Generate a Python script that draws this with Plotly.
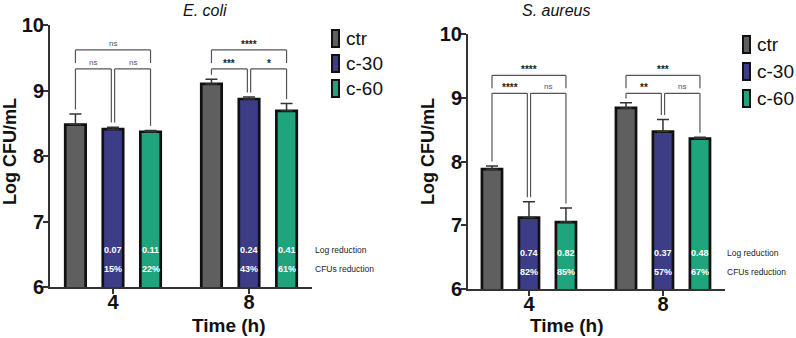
import plotly.graph_objects as go

W, H = 796, 338

# ---------------- data ----------------
groups = ["4", "8"]
series = ["ctr", "c-30", "c-60"]
colors = ["#5f5f5f", "#3c3d86", "#1fa47d"]

ecoli_ctr = [8.48, 9.10]
ecoli_ctr_err = [0.16, 0.07]
ecoli_c30 = [8.41, 8.87]
ecoli_c30_err = [0.03, 0.03]
ecoli_c60 = [8.37, 8.69]
ecoli_c60_err = [0.02, 0.11]

saureus_ctr = [7.88, 8.84]
saureus_ctr_err = [0.05, 0.08]
saureus_c30 = [7.12, 8.47]
saureus_c30_err = [0.25, 0.19]
saureus_c60 = [7.05, 8.36]
saureus_c60_err = [0.22, 0.02]

ecoli_logred = {"c-30": ["0.07", "0.24"], "c-60": ["0.11", "0.41"]}
ecoli_cfured = {"c-30": ["15%", "43%"], "c-60": ["22%", "61%"]}
saureus_logred = {"c-30": ["0.74", "0.37"], "c-60": ["0.82", "0.48"]}
saureus_cfured = {"c-30": ["82%", "57%"], "c-60": ["85%", "67%"]}

# (group index, series i, series j, label)
ecoli_sig = [(0, 0, 2, "ns"), (0, 0, 1, "ns"), (0, 1, 2, "ns"),
             (1, 0, 2, "****"), (1, 0, 1, "***"), (1, 1, 2, "*")]
saureus_sig = [(0, 0, 2, "****"), (0, 0, 1, "****"), (0, 1, 2, "ns"),
               (1, 0, 2, "***"), (1, 0, 1, "**"), (1, 1, 2, "ns")]

# ---------------- layout helpers ----------------
FONT = "Liberation Sans, Arial, Helvetica, sans-serif"
OFFS = [-0.276, 0.0, 0.276]
BARW = 0.15


def px(x):
    return x / W


def py(y):
    return (H - y) / H


panels = [
    dict(name="E. coli", xa="x", ya="y", means=[ecoli_ctr, ecoli_c30, ecoli_c60],
         errs=[ecoli_ctr_err, ecoli_c30_err, ecoli_c60_err],
         logred=ecoli_logred, cfured=ecoli_cfured, sig=ecoli_sig,
         xdom=[px(50), px(312)], ydom=[py(287), py(25)], xr=[-0.463, 1.463],
         L1=9.62, L2=9.33, title_xy=(181, 10), ytitle_xy=(10, 152), xtitle_xy=(190, 325),
         side_x=313, leg_x=332, leg_y=[38.5, 63.5, 88.5]),
    dict(name="S. aureus", xa="x2", ya="y2", means=[saureus_ctr, saureus_c30, saureus_c60],
         errs=[saureus_ctr_err, saureus_c30_err, saureus_c60_err],
         logred=saureus_logred, cfured=saureus_cfured, sig=saureus_sig,
         xdom=[px(468), px(725)], ydom=[py(289), py(34)], xr=[-0.455, 1.463],
         L1=9.35, L2=9.07, title_xy=(592, 10), ytitle_xy=(428, 152), xtitle_xy=(606, 325),
         side_x=725, leg_x=743, leg_y=[44.5, 71.5, 98.5]),
]

fig = go.Figure()
shapes = []
annos = []

for p in panels:
    for k, s in enumerate(series):
        fig.add_trace(go.Bar(
            x=[g + OFFS[k] for g in range(len(groups))],
            y=p["means"][k],
            width=BARW,
            name=s,
            showlegend=False,
            marker=dict(color=colors[k], line=dict(color="#111111", width=2.7)),
            error_y=dict(type="data", symmetric=False, array=p["errs"][k],
                         arrayminus=[0] * len(groups), color="#333333",
                         thickness=1.5, width=6),
            xaxis=p["xa"], yaxis=p["ya"],
        ))

    # in-bar reduction labels
    for k, s in enumerate(series):
        if s in p["logred"]:
            for g in range(len(groups)):
                for yv, txt in ((6.565, p["logred"][s][g]), (6.27, p["cfured"][s][g])):
                    annos.append(dict(x=g + OFFS[k], y=yv, xref=p["xa"], yref=p["ya"],
                                      text=txt, showarrow=False,
                                      font=dict(family=FONT, size=9, color="white", weight="bold")))
    annos.append(dict(x=px(p["side_x"]), y=6.565, xref="paper", yref=p["ya"], text="Log reduction",
                      showarrow=False, xanchor="left", font=dict(family=FONT, size=8.5, color="#222")))
    annos.append(dict(x=px(p["side_x"]), y=6.27, xref="paper", yref=p["ya"], text="CFUs reduction",
                      showarrow=False, xanchor="left", font=dict(family=FONT, size=8.5, color="#222")))

    # significance brackets
    tops = [[p["means"][k][g] + p["errs"][k][g] for g in range(len(groups))] for k in range(3)]
    for (g, i, j, lab) in p["sig"]:
        xi, xj = g + OFFS[i], g + OFFS[j]
        d = 0.012
        lc = dict(color="#555555", width=1.2)
        if j - i == 2:
            lvl = p["L1"]
            bi = bj = lvl - 0.2
        else:
            lvl = p["L2"]
            if i == 1:
                xi += d
            if j == 1:
                xj -= d
            bi = tops[i][g] + 0.07
            bj = tops[j][g] + 0.07
        shapes.append(dict(type="line", xref=p["xa"], yref=p["ya"], x0=xi, x1=xj, y0=lvl, y1=lvl, line=lc))
        shapes.append(dict(type="line", xref=p["xa"], yref=p["ya"], x0=xi, x1=xi, y0=lvl, y1=bi, line=lc))
        shapes.append(dict(type="line", xref=p["xa"], yref=p["ya"], x0=xj, x1=xj, y0=lvl, y1=bj, line=lc))
        is_ns = lab == "ns"
        annos.append(dict(x=(xi + xj) / 2, y=lvl, xref=p["xa"], yref=p["ya"], text=lab,
                          showarrow=False, yanchor="bottom", yshift=0 if is_ns else -2,
                          font=dict(family=FONT, size=8 if is_ns else 10, color="#555" if is_ns else "#222",
                                    weight="normal" if is_ns else "bold")))

    # legend (custom)
    for k, s in enumerate(series):
        yc = p["leg_y"][k]
        shapes.append(dict(type="rect", xref="paper", yref="paper",
                           x0=px(p["leg_x"]), x1=px(p["leg_x"] + 7),
                           y0=py(yc + 8.5), y1=py(yc - 8.5),
                           fillcolor=colors[k], line=dict(color="#111111", width=2)))
        annos.append(dict(x=px(p["leg_x"] + 12), y=py(yc), xref="paper", yref="paper", text=s,
                          showarrow=False, xanchor="left", yanchor="middle",
                          font=dict(family=FONT, size=19, color="#111")))

    # titles
    tx, ty = p["title_xy"]
    annos.append(dict(x=px(tx), y=py(ty), xref="paper", yref="paper", text="<i>%s</i>" % p["name"],
                      showarrow=False, yanchor="middle", font=dict(family=FONT, size=16, color="#111")))
    yx, yy = p["ytitle_xy"]
    annos.append(dict(x=px(yx), y=py(yy), xref="paper", yref="paper", text="Log CFU/mL",
                      textangle=-90, showarrow=False, xanchor="center", yanchor="middle",
                      font=dict(family=FONT, size=18, color="#111", weight="bold")))
    xx, xy = p["xtitle_xy"]
    annos.append(dict(x=px(xx), y=py(xy), xref="paper", yref="paper", text="Time (h)",
                      showarrow=False, yanchor="middle",
                      font=dict(family=FONT, size=19, color="#111", weight="bold")))

axis_common = dict(showgrid=False, zeroline=False, showline=True, linecolor="#333333", linewidth=2,
                   ticks="outside", ticklen=5, tickwidth=2, tickcolor="#333333", automargin=False,
                   tickfont=dict(family=FONT, size=20, color="#111", weight="bold"))

layout = dict(
    width=W, height=H, margin=dict(l=0, r=0, t=0, b=0, pad=0, autoexpand=False),
    plot_bgcolor="white", paper_bgcolor="white",
    barmode="overlay", showlegend=False,
    shapes=shapes, annotations=annos,
)
for p in panels:
    xa = "xaxis" if p["xa"] == "x" else "xaxis2"
    ya = "yaxis" if p["ya"] == "y" else "yaxis2"
    layout[xa] = dict(axis_common, domain=p["xdom"], range=p["xr"], tickvals=list(range(len(groups))),
                      ticktext=groups, anchor=p["ya"], ticklabelstandoff=-9)
    layout[ya] = dict(axis_common, domain=p["ydom"], range=[6, 10], tickvals=[6, 7, 8, 9, 10],
                      anchor=p["xa"], ticklabelstandoff=-5)

fig.update_layout(**layout)
fig.write_html("out.html", config={"displayModeBar": False},
               post_script="document.body.style.margin='0';document.body.style.overflow='hidden';")
